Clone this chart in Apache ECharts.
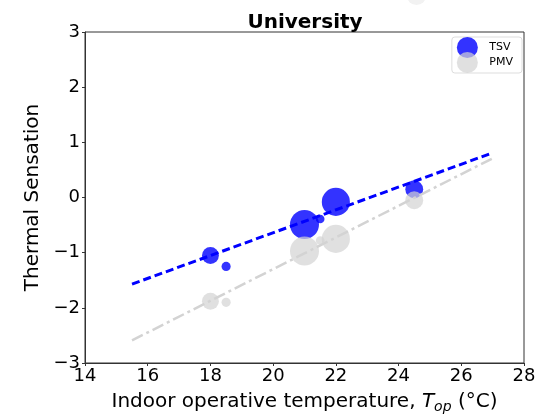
<!DOCTYPE html>
<html>
<head>
<meta charset="utf-8">
<script src="https://cdn.jsdelivr.net/npm/echarts@6/dist/echarts.min.js"></script>
<style>
  html, body { margin: 0; padding: 0; background: #fff; }
  #chart { width: 552px; height: 415px; }
</style>
</head>
<body>
<div id="chart"></div>
<script>
// Indoor operative temperature bins (°C)
const temps = [18, 18.5, 21, 21.5, 22, 24.5];
// Mean thermal sensation vote per bin
const tsvValues = [-1.05, -1.25, -0.49, -0.39, -0.08, 0.15];
// Predicted mean vote per bin
const pmvValues = [-1.88, -1.9, -0.97, -0.78, -0.75, -0.05];
// Relative sample weight of each bin (bubble area)
const weights = [34, 10, 100, 9, 94, 38];
// Linear fits, given by their end points
const tsvFit = [[15.5, -1.57], [27, 0.81]];
const pmvFit = [[15.5, -2.59], [27, 0.71]];
// Axis ranges
const xTicks = { min: 14, max: 28, step: 2 };
const yTicks = { min: -3, max: 3, step: 1 };

const FONT = 'DejaVu Sans';
const bubble = (v) => Math.sqrt(v[2]) * 2.9;
const pts = (ys) => temps.map((t, i) => [t, ys[i], weights[i]]);
const minus = (v) => String(v).replace('-', '\u2212');

const chart = echarts.init(document.getElementById('chart'), null, { renderer: 'canvas' });
chart.setOption({
  animation: false,
  backgroundColor: '#fff',
  title: {
    text: 'University',
    left: 300, top: 8, textAlign: 'center',
    textStyle: { fontFamily: FONT, fontSize: 20, fontWeight: 'bold', color: '#000' }
  },
  legend: {
    orient: 'vertical',
    right: 30, top: 37,
    data: ['TSV', 'PMV'],
    icon: 'circle',
    itemWidth: 22, itemHeight: 21, itemGap: -6,
    padding: [0, 9, 0, 5],
    borderColor: '#ddd', borderWidth: 1, borderRadius: 3,
    textStyle: { fontFamily: FONT, fontSize: 11, color: '#000', padding: [0, 0, 0, 6] }
  },
  grid: {
    left: 85, right: 28, top: 32, bottom: 52,
    containLabel: false, outerBoundsMode: 'none',
    show: true, borderColor: '#333', borderWidth: 1
  },
  xAxis: {
    type: 'value', min: xTicks.min, max: xTicks.max, interval: xTicks.step,
    name: 'Indoor operative temperature, {i|T}{s|op} (°C)',
    nameLocation: 'middle', nameGap: 27,
    nameTextStyle: {
      fontFamily: FONT, fontSize: 20, color: '#000',
      rich: {
        i: { fontFamily: FONT, fontSize: 20, fontStyle: 'italic', color: '#000' },
        s: { fontFamily: FONT, fontSize: 14, fontStyle: 'italic', color: '#000', padding: [10, 0, 0, 0] }
      }
    },
    axisLine: { show: true, onZero: false, lineStyle: { color: '#333', width: 1 } },
    axisTick: { show: true, inside: false, length: 3, lineStyle: { color: '#333' } },
    axisLabel: { fontFamily: FONT, fontSize: 18, color: '#000', margin: 4, formatter: minus },
    splitLine: { show: false }
  },
  yAxis: {
    type: 'value', min: yTicks.min, max: yTicks.max, interval: yTicks.step,
    name: 'Thermal Sensation',
    nameLocation: 'middle', nameGap: 40, nameRotate: 90,
    nameTextStyle: { fontFamily: FONT, fontSize: 20, color: '#000' },
    axisLine: { show: true, onZero: false, lineStyle: { color: '#333', width: 1 } },
    axisTick: { show: true, inside: false, length: 3, lineStyle: { color: '#333' } },
    axisLabel: { fontFamily: FONT, fontSize: 18, color: '#000', margin: 5, formatter: minus },
    splitLine: { show: false }
  },
  series: [
    {
      name: 'TSV', type: 'scatter', z: 2,
      data: pts(tsvValues), symbolSize: bubble,
      itemStyle: { color: '#0000ff', opacity: 0.8 }
    },
    {
      name: 'PMV', type: 'scatter', z: 3,
      data: pts(pmvValues), symbolSize: bubble,
      itemStyle: { color: '#d3d3d3', opacity: 0.7 }
    },
    {
      name: 'TSV fit', type: 'line', z: 4, data: tsvFit,
      showSymbol: false, symbol: 'none',
      lineStyle: { color: '#0000ff', width: 3, type: [8, 4] }
    },
    {
      name: 'PMV fit', type: 'line', z: 4, data: pmvFit,
      showSymbol: false, symbol: 'none',
      lineStyle: { color: '#d3d3d3', width: 2.5, type: [12, 4, 3, 4] }
    }
  ],
  graphic: [
    { type: 'circle', shape: { cx: 416.5, cy: -4.7, r: 9.7 }, style: { fill: '#f2f2f2' }, z: -1 }
  ]
});
</script>
</body>
</html>
